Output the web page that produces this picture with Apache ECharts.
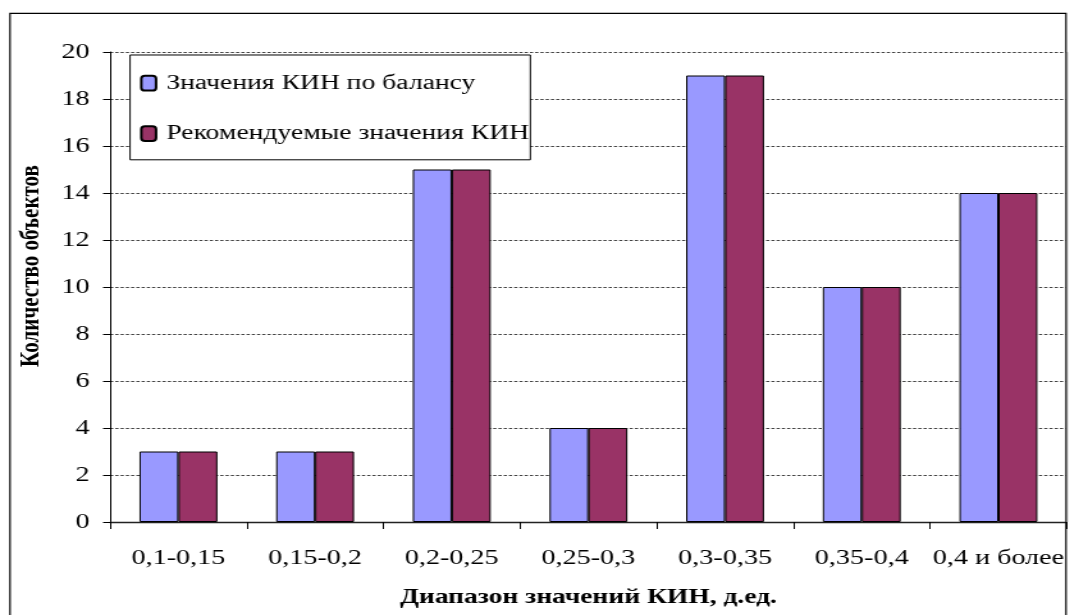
<!DOCTYPE html>
<html>
<head>
<meta charset="utf-8">
<script src="https://cdn.jsdelivr.net/npm/echarts@6/dist/echarts.min.js"></script>
<style>
  html, body { margin: 0; padding: 0; background: #fff; overflow: hidden; }
  /* The chart is laid out on a narrower canvas and widened, giving the broad serif lettering */
  #chart { width: 835px; height: 615px; transform: scaleX(1.28); transform-origin: 0 0; }
</style>
</head>
<body>
<div id="chart"></div>
<script>
const categories = ['0,1-0,15', '0,15-0,2', '0,2-0,25', '0,25-0,3', '0,3-0,35', '0,35-0,4', '0,4 и более'];
const balanceValues = [3, 3, 15, 4, 19, 10, 14];
const recommendedValues = [3, 3, 15, 4, 19, 10, 14];
const seriesNames = ['Значения КИН по балансу', 'Рекомендуемые значения КИН'];
const xTitle = 'Диапазон значений КИН, д.ед.';
const yTitle = 'Количество объектов';

const FONT = 'Liberation Serif';
const chart = echarts.init(document.getElementById('chart'));

chart.setOption({
  animation: false,
  backgroundColor: '#fff',
  textStyle: { fontFamily: FONT },
  grid: { left: 86, right: 1.6, top: 52, bottom: 93, containLabel: false, outerBoundsMode: 'none' },
  legend: {
    orient: 'vertical',
    left: 101.6,
    top: 55,
    padding: [17.2, 1, 15.2, 7.8],
    itemGap: 28.4,
    itemWidth: 11.5,
    itemHeight: 14.7,
    backgroundColor: '#fff',
    borderColor: '#000',
    borderWidth: 1,
    borderRadius: 0,
    textStyle: { fontFamily: FONT, fontSize: 21.6, lineHeight: 21.6, color: '#000', padding: [0, 0, 0, 3] },
    data: seriesNames
  },
  xAxis: {
    type: 'category',
    data: categories,
    name: xTitle,
    nameLocation: 'middle',
    nameGap: 64,
    nameTextStyle: { fontFamily: FONT, fontSize: 21.5, fontWeight: 'bold', color: '#000' },
    axisLine: { lineStyle: { color: '#222', width: 1.3 } },
    axisTick: { show: true, inside: false, length: 7, lineStyle: { color: '#000' } },
    axisLabel: { fontFamily: FONT, fontSize: 22, color: '#000', margin: 25, interval: 0 },
    splitLine: { show: false }
  },
  yAxis: {
    type: 'value',
    min: 0,
    max: 20,
    interval: 2,
    axisLine: { show: true, lineStyle: { color: '#000', width: 1 } },
    axisTick: { show: true, inside: false, length: 5.5, lineStyle: { color: '#000' } },
    axisLabel: { fontFamily: FONT, fontSize: 22, color: '#000', margin: 16 },
    splitLine: { show: true, lineStyle: { color: '#444', type: [2.5, 1.6], width: 1 } }
  },
  graphic: [
    {
      type: 'rect',
      silent: true,
      shape: { x: 7.8, y: 13.3, width: 825, height: 700 },
      style: { fill: 'none', stroke: '#000', lineWidth: 1.2 },
      z: 100
    },
    {
      type: 'line',
      silent: true,
      shape: { x1: 833.4, y1: 52, x2: 833.4, y2: 522 },
      style: { stroke: '#777', lineWidth: 1.5 },
      z: 101
    },
    {
      type: 'text',
      silent: true,
      x: 25,
      y: 266,
      rotation: Math.PI / 2,
      style: {
        text: yTitle,
        fontFamily: FONT,
        fontSize: 21,
        fontWeight: 'bold',
        fill: '#000',
        align: 'center',
        verticalAlign: 'middle'
      }
    }
  ],
  series: [
    {
      name: seriesNames[0],
      type: 'bar',
      data: balanceValues,
      barGap: '0%',
      barCategoryGap: '43%',
      itemStyle: { color: '#9999FF', borderColor: '#000', borderWidth: 1 }
    },
    {
      name: seriesNames[1],
      type: 'bar',
      data: recommendedValues,
      barGap: '0%',
      barCategoryGap: '43%',
      itemStyle: { color: '#993366', borderColor: '#000', borderWidth: 1 }
    }
  ]
});
</script>
</body>
</html>
